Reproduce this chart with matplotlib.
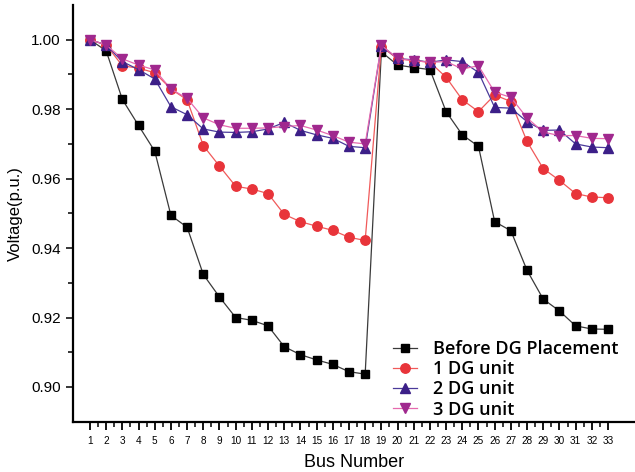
import matplotlib
matplotlib.use("Agg")
import matplotlib.pyplot as plt
from matplotlib.ticker import FixedLocator

buses = list(range(1, 34))

before_dg = [1.000, 0.9968, 0.9828, 0.9753, 0.9679, 0.9494, 0.9460, 0.9324, 0.9259, 0.9200,
             0.9192, 0.9176, 0.9116, 0.9093, 0.9078, 0.9065, 0.9044, 0.9037, 0.9965, 0.9927,
             0.9920, 0.9914, 0.9793, 0.9726, 0.9693, 0.9476, 0.9450, 0.9336, 0.9253, 0.9219,
             0.9176, 0.9167, 0.9166]
dg1 = [1.000, 0.9985, 0.9925, 0.9918, 0.9905, 0.9858, 0.9827, 0.9695, 0.9636, 0.9578,
       0.9570, 0.9557, 0.9497, 0.9476, 0.9463, 0.9451, 0.9431, 0.9422, 0.9980, 0.9945,
       0.9940, 0.9935, 0.9892, 0.9827, 0.9793, 0.9841, 0.9822, 0.9707, 0.9629, 0.9595,
       0.9557, 0.9547, 0.9545]
dg2 = [1.000, 0.9985, 0.9937, 0.9914, 0.9887, 0.9807, 0.9784, 0.9743, 0.9734, 0.9733,
       0.9735, 0.9743, 0.9762, 0.9739, 0.9726, 0.9716, 0.9693, 0.9689, 0.9983, 0.9946,
       0.9942, 0.9935, 0.9942, 0.9937, 0.9906, 0.9805, 0.9803, 0.9764, 0.9739, 0.9740,
       0.9700, 0.9691, 0.9689]
dg3 = [1.000, 0.9985, 0.9945, 0.9927, 0.9913, 0.9858, 0.9831, 0.9775, 0.9755, 0.9745,
       0.9745, 0.9746, 0.9750, 0.9753, 0.9740, 0.9724, 0.9705, 0.9700, 0.9984, 0.9946,
       0.9940, 0.9935, 0.9937, 0.9916, 0.9925, 0.9849, 0.9834, 0.9775, 0.9734, 0.9724,
       0.9724, 0.9716, 0.9715]

labels = ["Before DG Placement", "1 DG unit", "2 DG unit", "3 DG unit"]
y_ticks = [0.90, 0.92, 0.94, 0.96, 0.98, 1.00]

fig = plt.figure(figsize=(6.35, 4.72), dpi=100)
ax = fig.add_axes([73/635, 1 - 421.7/472, 1 - 73/635, (421.7 - 5)/472])

ax.plot(buses, before_dg, color="#3a3a3a", lw=0.9, marker="s", ms=5.2,
        mfc="black", mec="black", label=labels[0])
ax.plot(buses, dg1, color="#f05a5a", lw=0.9, marker="o", ms=6.8,
        mfc="#e8343a", mec="#e8343a", label=labels[1])
ax.plot(buses, dg2, color="#4a3a9a", lw=0.9, marker="^", ms=7.2,
        mfc="#3c1f88", mec="#3c1f88", label=labels[2])
ax.plot(buses, dg3, color="#e66aae", lw=0.9, marker="v", ms=7.2,
        mfc="#a0288e", mec="#a0288e", label=labels[3])

ax.set_xlim(-0.05, 34.67)
ax.set_ylim(0.89, 1.01)
ax.xaxis.set_major_locator(FixedLocator(buses))
ax.xaxis.set_minor_locator(FixedLocator([b + 0.5 for b in buses[:-1]]))
ax.yaxis.set_major_locator(FixedLocator(y_ticks))
ax.yaxis.set_minor_locator(FixedLocator([0.91, 0.93, 0.95, 0.97, 0.99]))
ax.set_yticklabels([f"{v:.2f}" for v in y_ticks])

for s in ["top", "right"]:
    ax.spines[s].set_visible(False)
for s in ["left", "bottom"]:
    ax.spines[s].set_linewidth(1.6)

ax.tick_params(axis="x", which="major", direction="out", length=6, width=1.3,
               labelsize=7.2, pad=4)
ax.tick_params(axis="x", which="minor", direction="out", length=3.5, width=1.1)
ax.tick_params(axis="y", which="major", direction="out", length=5, width=1.1,
               labelsize=11, pad=4)
ax.tick_params(axis="y", which="minor", direction="out", length=3.5, width=1.1)
for lab in ax.get_xticklabels() + ax.get_yticklabels():
    lab.set_fontfamily("Liberation Sans")

ax.set_xlabel("Bus Number", fontsize=13, family="Liberation Sans", labelpad=6)
ax.set_ylabel("Voltage(p.u.)", fontsize=12, family="Liberation Sans", labelpad=6)

leg = ax.legend(loc="upper left", bbox_to_anchor=((393 - 73) / (635 - 73), 1 - (340 - 5) / (421.7 - 5)),
                frameon=False, prop={"family": "Open Sans", "size": 13, "weight": 600},
                handlelength=1.35, handletextpad=0.85, labelspacing=0.12,
                borderpad=0, borderaxespad=0)

fig.savefig("out.png", dpi=100)
